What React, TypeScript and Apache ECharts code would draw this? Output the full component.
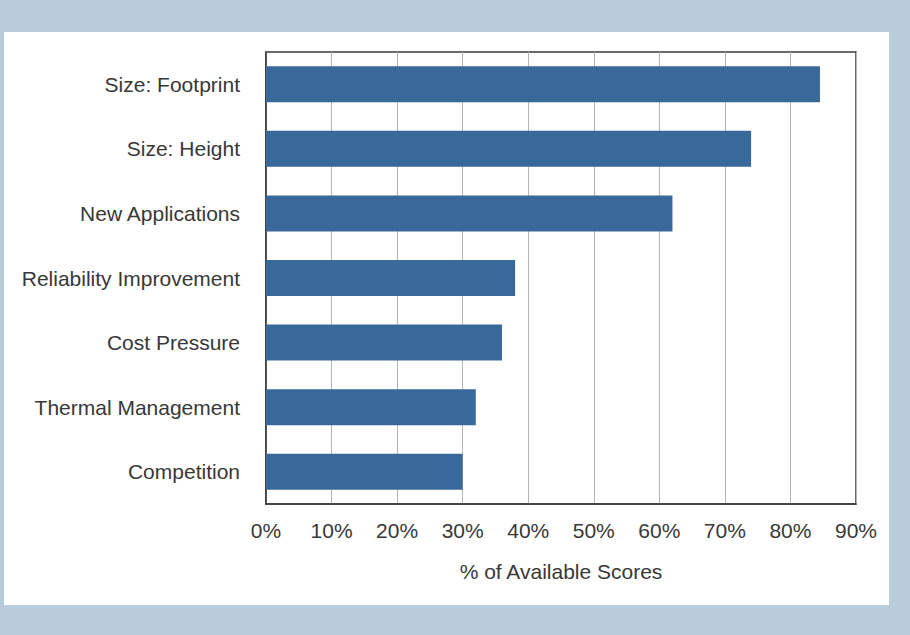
import React, { useEffect, useRef } from "react";
import * as echarts from "echarts";

const categories = [
  "Size: Footprint",
  "Size: Height",
  "New Applications",
  "Reliability Improvement",
  "Cost Pressure",
  "Thermal Management",
  "Competition",
];
const values = [84.5, 74, 62, 38, 36, 32, 30];
const axisTitle = "% of Available Scores";

export default function App() {
  const ref = useRef<HTMLDivElement>(null);
  useEffect(() => {
    document.body.style.margin = "0";
    const chart = echarts.init(ref.current!, null, { renderer: "svg" });
    const font = "'Liberation Sans', Arial, sans-serif";
    chart.setOption({
      animation: false,
      backgroundColor: "#b8ccda",
      graphic: [
        {
          type: "rect",
          shape: { x: 4, y: 32, width: 885, height: 573 },
          style: { fill: "#ffffff" },
          z: -10,
          silent: true,
        },
      ],
      grid: {
        left: 266,
        top: 52,
        width: 590,
        height: 452,
        show: true,
        borderColor: "#3a3a3a",
        borderWidth: 1.5,
        backgroundColor: "transparent",
        containLabel: false,
      },
      xAxis: {
        type: "value",
        min: 0,
        max: 90,
        interval: 10,
        axisLine: { show: true, lineStyle: { color: "#3a3a3a", width: 1.5 } },
        axisTick: { show: false },
        splitLine: { show: true, lineStyle: { color: "#b4b4b4", width: 1 } },
        axisLabel: {
          formatter: "{value}%",
          color: "#383838",
          fontSize: 21,
          fontFamily: font,
          margin: 16,
        },
        name: axisTitle,
        nameLocation: "middle",
        nameGap: 57,
        nameTextStyle: { color: "#383838", fontSize: 21, fontFamily: font },
      },
      yAxis: {
        type: "category",
        data: categories,
        inverse: true,
        axisLine: { show: true, lineStyle: { color: "#3a3a3a", width: 1.5 } },
        axisTick: { show: false },
        splitLine: { show: false },
        axisLabel: {
          color: "#383838",
          fontSize: 21,
          fontFamily: font,
          margin: 26,
        },
      },
      series: [
        {
          type: "bar",
          data: values,
          barWidth: 36,
          itemStyle: { color: "#39689b" },
        },
      ],
    });
    return () => chart.dispose();
  }, []);
  return (
    <div
      ref={ref}
      style={{ position: "fixed", left: 0, top: 0, width: 910, height: 635 }}
    />
  );
}
